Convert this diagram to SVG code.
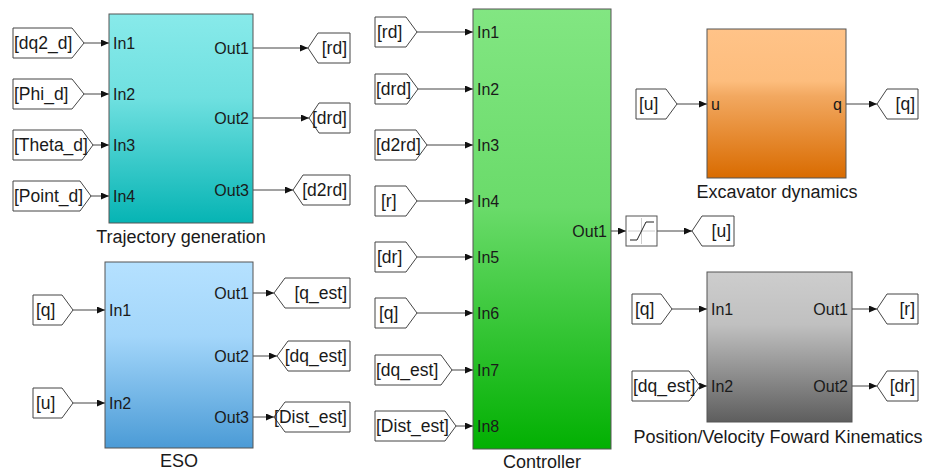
<svg xmlns="http://www.w3.org/2000/svg" width="928" height="472" viewBox="0 0 928 472">
<style>
text{font-family:"Liberation Sans",Arial,sans-serif;fill:#1a1a1a}
.blk{stroke:#555;stroke-width:1}
.tag{fill:#fff;stroke:#454545;stroke-width:1}
.ln{stroke:#454545;stroke-width:1;fill:none;marker-end:url(#ah)}
.port{font-size:16px}
.tt{font-size:17.5px}
.lbl{font-size:18px;text-anchor:middle}
.e{text-anchor:end}
</style>
<defs>
<marker id="ah" markerUnits="userSpaceOnUse" markerWidth="8" markerHeight="7" refX="8" refY="3.5" orient="auto"><path d="M0,0 L8,3.5 L0,7 Z" fill="#111"/></marker>
<linearGradient id="gTraj" x1="0" y1="0" x2="0" y2="1"><stop offset="0" stop-color="#88eaea"/><stop offset="0.4" stop-color="#6fe0e0"/><stop offset="1" stop-color="#06b4b4"/></linearGradient>
<linearGradient id="gEso" x1="0" y1="0" x2="0" y2="1"><stop offset="0" stop-color="#b5e1ff"/><stop offset="0.4" stop-color="#a3d6fa"/><stop offset="1" stop-color="#4b9bd6"/></linearGradient>
<linearGradient id="gCtrl" x1="0" y1="0" x2="0" y2="1"><stop offset="0" stop-color="#82e682"/><stop offset="0.45" stop-color="#6adb6a"/><stop offset="1" stop-color="#02b002"/></linearGradient>
<linearGradient id="gExc" x1="0" y1="0" x2="0" y2="1"><stop offset="0" stop-color="#ffc388"/><stop offset="0.35" stop-color="#fdbd7d"/><stop offset="0.45" stop-color="#f2a860"/><stop offset="1" stop-color="#d96b00"/></linearGradient>
<linearGradient id="gGray" x1="0" y1="0" x2="0" y2="1"><stop offset="0" stop-color="#cdcdcd"/><stop offset="0.35" stop-color="#c0c0c0"/><stop offset="1" stop-color="#5e5e5e"/></linearGradient>
</defs>

<g id="connectors">
<line class="ln" x1="84" y1="43" x2="109" y2="43"/>
<line class="ln" x1="84" y1="94" x2="109" y2="94"/>
<line class="ln" x1="93" y1="145" x2="109" y2="145"/>
<line class="ln" x1="91" y1="196" x2="109" y2="196"/>
<line class="ln" x1="253" y1="48" x2="308" y2="48"/>
<line class="ln" x1="253" y1="118" x2="309" y2="118"/>
<line class="ln" x1="253" y1="190" x2="293" y2="190"/>
<line class="ln" x1="73" y1="310" x2="105" y2="310"/>
<line class="ln" x1="73" y1="403" x2="105" y2="403"/>
<line class="ln" x1="253" y1="293" x2="274" y2="293"/>
<line class="ln" x1="253" y1="356" x2="277" y2="356"/>
<line class="ln" x1="253" y1="417" x2="274" y2="417"/>
<line class="ln" x1="417" y1="32" x2="473" y2="32"/>
<line class="ln" x1="418" y1="89" x2="473" y2="89"/>
<line class="ln" x1="427" y1="145" x2="473" y2="145"/>
<line class="ln" x1="417" y1="201" x2="473" y2="201"/>
<line class="ln" x1="417" y1="257" x2="473" y2="257"/>
<line class="ln" x1="417" y1="313" x2="473" y2="313"/>
<line class="ln" x1="452" y1="370" x2="473" y2="370"/>
<line class="ln" x1="456" y1="426" x2="473" y2="426"/>
<line class="ln" x1="611" y1="231" x2="626" y2="231"/>
<line class="ln" x1="657" y1="231" x2="692" y2="231"/>
<line class="ln" x1="677" y1="104" x2="707" y2="104"/>
<line class="ln" x1="846" y1="104" x2="877" y2="104"/>
<line class="ln" x1="672" y1="309" x2="707" y2="309"/>
<line class="ln" x1="700" y1="386" x2="707" y2="386"/>
<line class="ln" x1="852" y1="309" x2="877" y2="309"/>
<line class="ln" x1="852" y1="386" x2="877" y2="386"/>
</g>

<g id="traj">
<rect class="blk" x="109" y="14" width="144" height="209" fill="url(#gTraj)"/>
<text class="port" x="113" y="48.5">In1</text>
<text class="port" x="113" y="99.5">In2</text>
<text class="port" x="113" y="150.5">In3</text>
<text class="port" x="113" y="201.5">In4</text>
<text class="port e" x="249" y="53.5">Out1</text>
<text class="port e" x="249" y="123.5">Out2</text>
<text class="port e" x="249" y="195.5">Out3</text>
<text class="lbl" x="181" y="243">Trajectory generation</text>
</g>

<g id="from_dq2_d"><path class="tag" d="M13,28 H72 L84,43 L72,58 H13 Z"/><text class="tt" x="14" y="49">[dq2_d]</text></g>
<g id="from_phi_d"><path class="tag" d="M13,79 H72 L84,94 L72,109 H13 Z"/><text class="tt" x="14" y="100">[Phi_d]</text></g>
<g id="from_theta_d"><path class="tag" d="M13,130 H82 L93,145 L82,160 H13 Z"/><text class="tt" x="14" y="151">[Theta_d]</text></g>
<g id="from_point_d"><path class="tag" d="M13,181 H80 L91,196 L80,211 H13 Z"/><text class="tt" x="14" y="202">[Point_d]</text></g>

<g id="goto_rd"><path class="tag" d="M308,48 L318,33 H350 V63 H318 Z"/><text class="tt e" x="347" y="54">[rd]</text></g>
<g id="goto_drd"><path class="tag" d="M309,118 L319,103 H350 V133 H319 Z"/><text class="tt e" x="347" y="124">[drd]</text></g>
<g id="goto_d2rd"><path class="tag" d="M293,190 L303,175 H350 V205 H303 Z"/><text class="tt e" x="347" y="196">[d2rd]</text></g>

<g id="eso">
<rect class="blk" x="105" y="262" width="148" height="186" fill="url(#gEso)"/>
<text class="port" x="109" y="315.5">In1</text>
<text class="port" x="109" y="408.5">In2</text>
<text class="port e" x="249" y="298.5">Out1</text>
<text class="port e" x="249" y="361.5">Out2</text>
<text class="port e" x="249" y="422.5">Out3</text>
<text class="lbl" x="179" y="467">ESO</text>
</g>

<g id="from_q_eso"><path class="tag" d="M33,295 H62 L73,310 L62,325 H33 Z"/><text class="tt" x="36" y="316">[q]</text></g>
<g id="from_u_eso"><path class="tag" d="M33,388 H62 L73,403 L62,418 H33 Z"/><text class="tt" x="36" y="409">[u]</text></g>

<g id="goto_q_est"><path class="tag" d="M274,293 L285,278 H350 V308 H285 Z"/><text class="tt e" x="347" y="299">[q_est]</text></g>
<g id="goto_dq_est"><path class="tag" d="M277,356 L288,341 H350 V371 H288 Z"/><text class="tt e" x="347" y="362">[dq_est]</text></g>
<g id="goto_dist_est"><path class="tag" d="M274,417 L285,402 H350 V432 H285 Z"/><text class="tt e" x="347" y="423">[Dist_est]</text></g>

<g id="controller">
<rect class="blk" x="473" y="9" width="138" height="440" fill="url(#gCtrl)"/>
<text class="port" x="477" y="37.5">In1</text>
<text class="port" x="477" y="94.5">In2</text>
<text class="port" x="477" y="150.5">In3</text>
<text class="port" x="477" y="206.5">In4</text>
<text class="port" x="477" y="262.5">In5</text>
<text class="port" x="477" y="318.5">In6</text>
<text class="port" x="477" y="375.5">In7</text>
<text class="port" x="477" y="431.5">In8</text>
<text class="port e" x="607" y="236.5">Out1</text>
<text class="lbl" x="542" y="468">Controller</text>
</g>

<g id="from_rd"><path class="tag" d="M375,17 H406 L417,32 L406,47 H375 Z"/><text class="tt" x="377" y="38">[rd]</text></g>
<g id="from_drd"><path class="tag" d="M375,74 H407 L418,89 L407,104 H375 Z"/><text class="tt" x="376" y="95">[drd]</text></g>
<g id="from_d2rd"><path class="tag" d="M375,130 H416 L427,145 L416,160 H375 Z"/><text class="tt" x="376" y="151">[d2rd]</text></g>
<g id="from_r"><path class="tag" d="M375,186 H406 L417,201 L406,216 H375 Z"/><text class="tt" x="381" y="207">[r]</text></g>
<g id="from_dr"><path class="tag" d="M375,242 H406 L417,257 L406,272 H375 Z"/><text class="tt" x="377" y="263">[dr]</text></g>
<g id="from_q_ctrl"><path class="tag" d="M375,298 H406 L417,313 L406,328 H375 Z"/><text class="tt" x="379" y="319">[q]</text></g>
<g id="from_dq_est_ctrl"><path class="tag" d="M375,355 H441 L452,370 L441,385 H375 Z"/><text class="tt" x="376" y="376">[dq_est]</text></g>
<g id="from_dist_est"><path class="tag" d="M375,411 H445 L456,426 L445,441 H375 Z"/><text class="tt" x="376" y="432">[Dist_est]</text></g>

<g id="saturation">
<rect x="626" y="216" width="31" height="30" fill="#fff" stroke="#555" stroke-width="1"/>
<line x1="628" y1="231" x2="655" y2="231" stroke="#ccc" stroke-width="1"/>
<line x1="641.5" y1="218" x2="641.5" y2="244" stroke="#ccc" stroke-width="1"/>
<path d="M630,240 H637 L646,222 H654" fill="none" stroke="#222" stroke-width="1"/>
</g>
<g id="goto_u"><path class="tag" d="M692,231 L702,216 H734 V246 H702 Z"/><text class="tt e" x="731" y="237">[u]</text></g>

<g id="excavator">
<rect class="blk" x="707" y="29" width="139" height="149" fill="url(#gExc)"/>
<text class="port" x="711" y="109.5">u</text>
<text class="port e" x="842" y="109.5">q</text>
<text class="lbl" x="777" y="198">Excavator dynamics</text>
</g>
<g id="from_u_exc"><path class="tag" d="M636,89 H666 L677,104 L666,119 H636 Z"/><text class="tt" x="639" y="110">[u]</text></g>
<g id="goto_q"><path class="tag" d="M877,104 L887,89 H918 V119 H887 Z"/><text class="tt e" x="915" y="110">[q]</text></g>

<g id="kinematics">
<rect class="blk" x="707" y="272" width="145" height="150" fill="url(#gGray)"/>
<text class="port" x="711" y="314.5">In1</text>
<text class="port" x="711" y="391.5">In2</text>
<text class="port e" x="848" y="314.5">Out1</text>
<text class="port e" x="848" y="391.5">Out2</text>
<text class="lbl" x="778" y="443">Position/Velocity Foward Kinematics</text>
</g>
<g id="from_q_kin"><path class="tag" d="M632,294 H661 L672,309 L661,324 H632 Z"/><text class="tt" x="635" y="315">[q]</text></g>
<g id="from_dq_est_kin"><path class="tag" d="M632,371 H689 L700,386 L689,401 H632 Z"/><text class="tt" x="633" y="392">[dq_est]</text></g>
<g id="goto_r"><path class="tag" d="M877,309 L887,294 H918 V324 H887 Z"/><text class="tt e" x="915" y="315">[r]</text></g>
<g id="goto_dr"><path class="tag" d="M877,386 L887,371 H918 V401 H887 Z"/><text class="tt e" x="915" y="392">[dr]</text></g>
</svg>
